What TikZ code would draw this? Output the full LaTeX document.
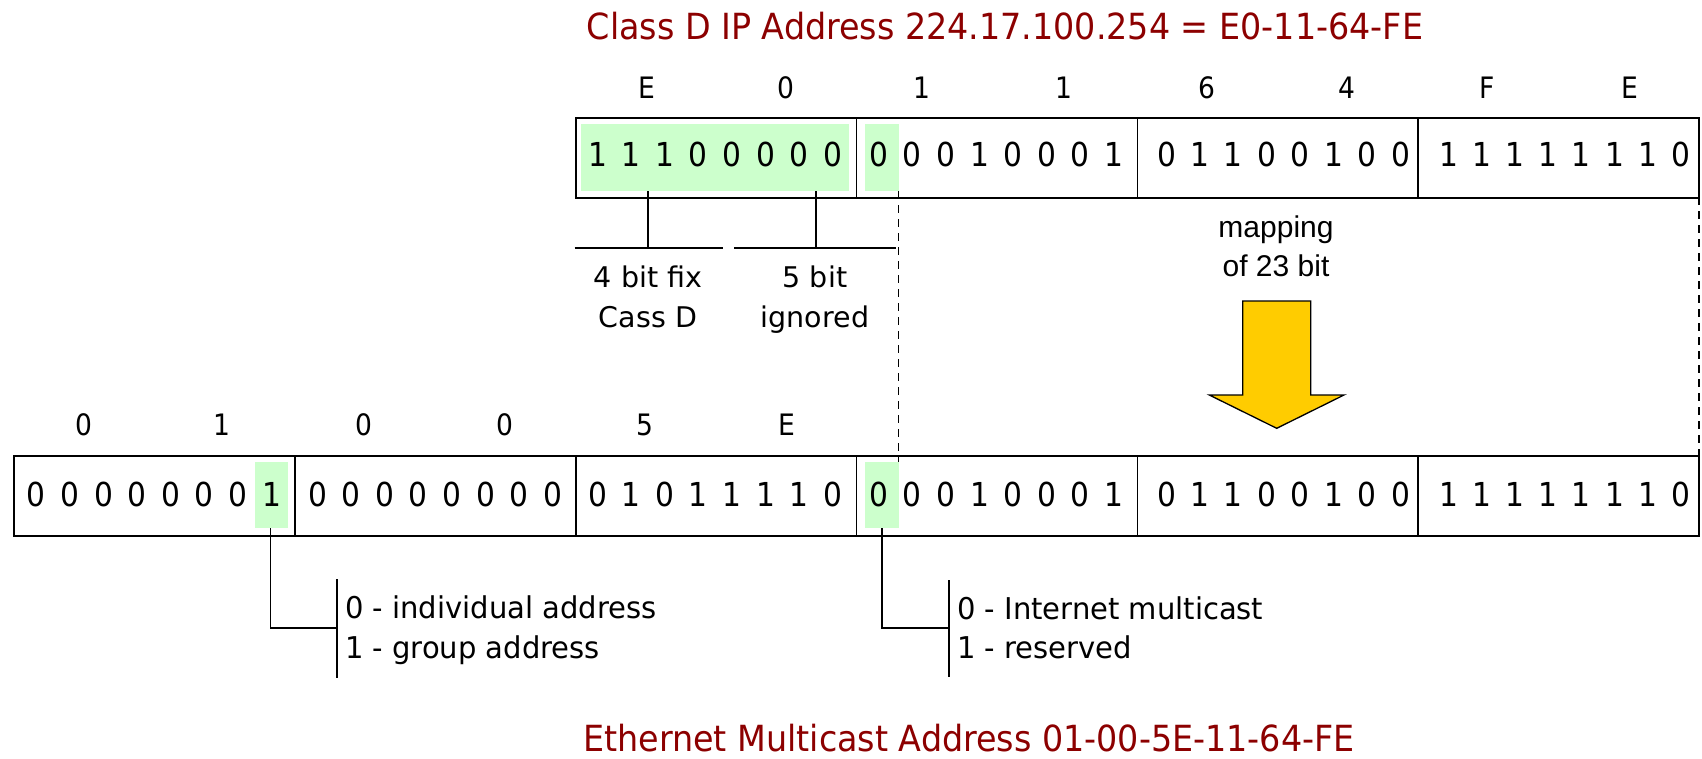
\documentclass[tikz,border=0pt]{standalone}
\usepackage{fontspec}
\setmainfont{DejaVu Sans Condensed}
\newfontfamily\arialf{Liberation Sans}
\newfontfamily\lblf{DejaVu Sans}
\newfontfamily\notef[FakeStretch=1.075]{DejaVu Sans Condensed}
\newfontfamily\ttlf[FakeStretch=1.03]{DejaVu Sans Condensed}
\definecolor{titlered}{RGB}{140,0,0}
\definecolor{hl}{RGB}{204,255,204}
\definecolor{arrowy}{RGB}{255,204,0}
\newcommand\bitrow[5]{\foreach \d [count=\i from 0] in {#5} \node[bit] (#1-\i) at ({#3+#4*\i},#2) {\d};}
\begin{document}
\begin{tikzpicture}[x=1pt,y=-1pt,
  cell/.style={draw, line width=1.6pt, minimum width=280.8pt, minimum height=80pt, inner sep=0pt, anchor=north west},
  bit/.style={anchor=base, inner sep=0pt, font=\fontsize{33}{40}\selectfont},
  hexl/.style={anchor=base, inner sep=0pt, font=\fontsize{29.5}{35}\selectfont},
  lbl/.style={anchor=base, inner sep=0pt, font=\lblf\fontsize{28.5}{34}\selectfont},
  note/.style={anchor=base west, inner sep=0pt, font=\notef\fontsize{30}{36}\selectfont},
  ttl/.style={anchor=base, inner sep=0pt, text=titlered, font=\ttlf\fontsize{36}{42}\selectfont},
  mapt/.style={anchor=base, inner sep=0pt, font=\arialf\fontsize{30}{36}\selectfont},
  ln/.style={line width=1.8pt},
  dln/.style={line width=1.8pt, dash pattern=on 8pt off 6pt}
]
\useasboundingbox (0,0) rectangle (1702,758);
% titles
\node[ttl] (title) at (1005,39.3) {Class D IP Address 224.17.100.254 = E0-11-64-FE};
\node[ttl] (title2) at (969,751) {Ethernet Multicast Address 01-00-5E-11-64-FE};
% highlights
\fill[hl] (581,124) rectangle (849,191);
\fill[hl] (865,124) rectangle (899,191);
\fill[hl] (254.5,462) rectangle (287.8,528);
\fill[hl] (865,462) rectangle (899,528);
% top cells
\node[cell] (t2) at (575,117) {};
\node[cell] (t3) at (855.8,117) {};
\node[cell] (t4) at (1136.6,117) {};
\node[cell] (t5) at (1417.4,117) {};
% bottom cells
\node[cell] (b0) at (13.4,455) {};
\node[cell] (b1) at (294.2,455) {};
\node[cell] (b2) at (575,455) {};
\node[cell] (b3) at (855.8,455) {};
\node[cell] (b4) at (1136.6,455) {};
\node[cell] (b5) at (1417.4,455) {};
% hex labels top
\node[hexl] (th1) at (646.5,98.3) {E};
\node[hexl] (th2) at (785.6,98.3) {0};
\node[hexl] (th3) at (922,98.3) {1};
\node[hexl] (th4) at (1064,98.3) {1};
\node[hexl] (th5) at (1206.8,98.3) {6};
\node[hexl] (th6) at (1347.2,98.3) {4};
\node[hexl] (th7) at (1487.6,98.3) {F};
\node[hexl] (th8) at (1630,98.3) {E};
% hex labels bottom
\node[hexl] (bh1) at (83.6,435.5) {0};
\node[hexl] (bh2) at (222,435.5) {1};
\node[hexl] (bh3) at (364.4,435.5) {0};
\node[hexl] (bh4) at (504.8,435.5) {0};
\node[hexl] (bh5) at (645.2,435.5) {5};
\node[hexl] (bh6) at (786.6,435.5) {E};
% bits top
\bitrow{tb2}{166.7}{597.6}{33.6}{1,1,1,0,0,0,0,0}
\bitrow{tb3}{166.7}{878.8}{33.6}{0,0,0,1,0,0,0,1}
\bitrow{tb4}{166.7}{1166.5}{33.44}{0,1,1,0,0,1,0,0}
\bitrow{tb5}{166.7}{1448.6}{33.2}{1,1,1,1,1,1,1,0}
% bits bottom
\bitrow{bb0}{506}{36.4}{33.6}{0,0,0,0,0,0,0,1}
\bitrow{bb1}{506}{317.6}{33.6}{0,0,0,0,0,0,0,0}
\bitrow{bb2}{506}{597.6}{33.6}{0,1,0,1,1,1,1,0}
\bitrow{bb3}{506}{878.8}{33.6}{0,0,0,1,0,0,0,1}
\bitrow{bb4}{506}{1166.5}{33.44}{0,1,1,0,0,1,0,0}
\bitrow{bb5}{506}{1448.6}{33.2}{1,1,1,1,1,1,1,0}
% brackets under top box
\coordinate (fixtop) at (648,191);
\coordinate (fixbar) at (648,247.7);
\coordinate (igntop) at (815.6,191);
\coordinate (ignbar) at (815.6,247.7);
\draw[ln] (fixtop) -- (fixbar);
\draw[ln] (574.5,247.7) -- (722.5,247.7);
\draw[ln] (igntop) -- (ignbar);
\draw[ln] (734.3,247.7) -- (896,247.7);
\node[lbl] (fix1) at (648,287.3) {4 bit fix};
\node[lbl] (fix2) at (648,327.3) {Cass D};
\node[lbl] (ign1) at (815,287.3) {5 bit};
\node[lbl] (ign2) at (815,327.3) {ignored};
% dashed mapping lines
\coordinate (d1a) at (898.5,191);
\coordinate (d1b) at (898.5,462);
\coordinate (d2a) at (1699,197);
\coordinate (d2b) at (1699,462);
\draw[dln] (d1a) -- (d1b);
\draw[dln] (d2a) -- (d2b);
% mapping text and arrow
\node[mapt] (map1) at (1276,237) {mapping};
\node[mapt] (map2) at (1276,276) {of 23 bit};
\draw[fill=arrowy, line width=1.3pt, line join=miter] (1242.7,301) -- (1310.7,301) -- (1310.7,395) -- (1344,395) -- (1276.7,428.3) -- (1209.3,395) -- (1242.7,395) -- cycle;
% bottom annotations
\coordinate (g1) at (270.5,528);
\coordinate (g1c) at (270.5,628);
\coordinate (g1b) at (337,628);
\draw[ln] (g1) -- (g1c) -- (g1b);
\draw[ln] (337,579) -- (337,678);
\node[note] (n1a) at (345,618.3) {0 - individual address};
\node[note] (n1b) at (345,658.3) {1 - group address};
\coordinate (g2) at (882,528);
\coordinate (g2c) at (882,628);
\coordinate (g2b) at (949,628);
\draw[ln] (g2) -- (g2c) -- (g2b);
\draw[ln] (949,580) -- (949,677);
\node[note] (n2a) at (957,619.3) {0 - Internet multicast};
\node[note] (n2b) at (957,658.3) {1 - reserved};
\end{tikzpicture}
\end{document}
